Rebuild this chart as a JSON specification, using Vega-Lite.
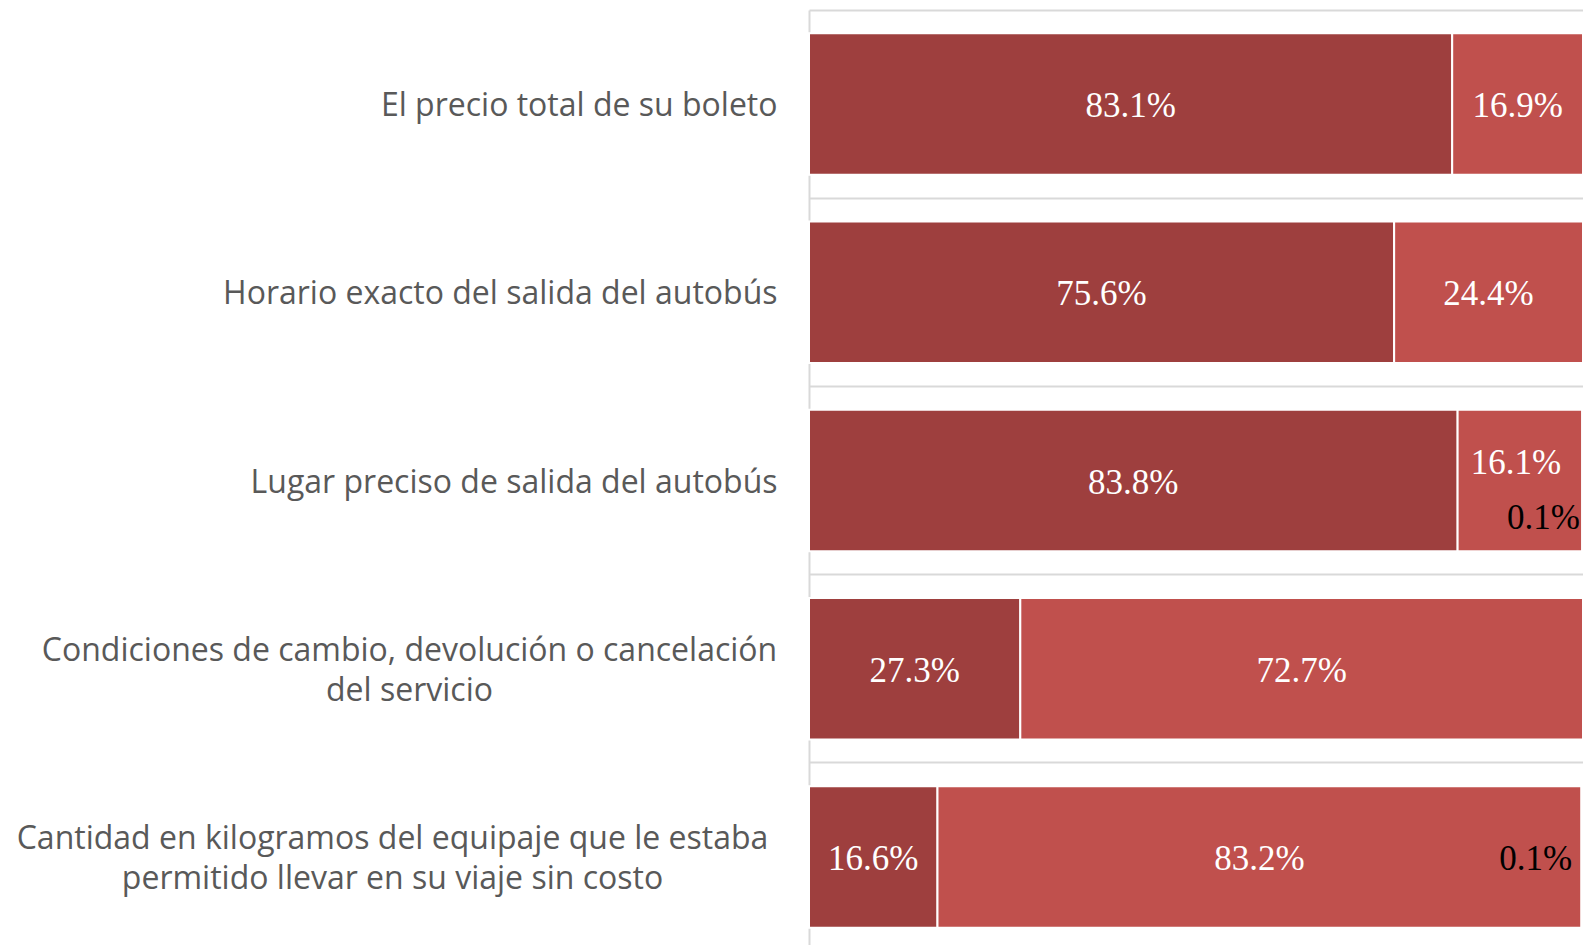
{
  "$schema": "https://vega.github.io/schema/vega-lite/v6.json",
  "width": 774,
  "height": 941,
  "autosize": {"type": "none"},
  "padding": {"left": 809, "top": 10, "right": 0, "bottom": 0},
  "background": "white",
  "config": {"view": {"stroke": null}},
  "data": {
    "values": [
      {"q": "El precio total de su boleto", "r": "Sí", "v": 0.831},
      {"q": "El precio total de su boleto", "r": "No", "v": 0.169},
      {"q": "Horario exacto del salida del autobús", "r": "Sí", "v": 0.756},
      {"q": "Horario exacto del salida del autobús", "r": "No", "v": 0.244},
      {"q": "Lugar preciso de salida del autobús", "r": "Sí", "v": 0.838},
      {"q": "Lugar preciso de salida del autobús", "r": "No", "v": 0.161},
      {"q": "Lugar preciso de salida del autobús", "r": "No sabe", "v": 0.001},
      {"q": "Condiciones de cambio, devolución o cancelación del servicio", "r": "Sí", "v": 0.273},
      {"q": "Condiciones de cambio, devolución o cancelación del servicio", "r": "No", "v": 0.727},
      {"q": "Cantidad en kilogramos del equipaje que le estaba permitido llevar en su viaje sin costo", "r": "Sí", "v": 0.166},
      {"q": "Cantidad en kilogramos del equipaje que le estaba permitido llevar en su viaje sin costo", "r": "No", "v": 0.832},
      {"q": "Cantidad en kilogramos del equipaje que le estaba permitido llevar en su viaje sin costo", "r": "No sabe", "v": 0.001}
    ]
  },
  "transform": [
    {"calculate": "indexof(['Sí','No','No sabe'], datum.r)", "as": "ord"},
    {"stack": "v", "groupby": ["q"], "sort": [{"field": "ord", "order": "ascending"}], "as": ["v0", "v1"]},
    {"calculate": "(datum.v0 + datum.v1) / 2", "as": "vm"}
  ],
  "encoding": {
    "y": {
      "field": "q",
      "type": "nominal",
      "sort": null,
      "scale": {"paddingInner": 0, "paddingOuter": 0},
      "axis": {
        "title": null,
        "ticks": false,
        "tickSize": 0,
        "domain": true,
        "domainColor": "#d9d9d9",
        "domainWidth": 2,
        "grid": true,
        "gridColor": "#d9d9d9",
        "gridWidth": 2,
        "bandPosition": 0,
        "labelFont": "Open Sans",
        "labelFontSize": 32,
        "labelColor": "#595959",
        "labelLimit": 900,
        "labelOverlap": false,
        "labelBound": false,
        "labelLineHeight": 40,
        "labelAlign": {
          "condition": {"test": "datum.value == 'Condiciones de cambio, devolución o cancelación del servicio' || datum.value == 'Cantidad en kilogramos del equipaje que le estaba permitido llevar en su viaje sin costo'", "value": "center"},
          "value": "right"
        },
        "labelOffset": {
          "condition": {"test": "datum.value == 'Condiciones de cambio, devolución o cancelación del servicio' || datum.value == 'Cantidad en kilogramos del equipaje que le estaba permitido llevar en su viaje sin costo'", "value": -18},
          "value": 2
        },
        "labelPadding": {
          "condition": [
            {"test": "datum.value == 'Condiciones de cambio, devolución o cancelación del servicio'", "value": 400},
            {"test": "datum.value == 'Cantidad en kilogramos del equipaje que le estaba permitido llevar en su viaje sin costo'", "value": 417}
          ],
          "value": 32
        },
        "labelExpr": "datum.value == 'Condiciones de cambio, devolución o cancelación del servicio' ? ['Condiciones de cambio, devolución o cancelación', 'del servicio'] : datum.value == 'Cantidad en kilogramos del equipaje que le estaba permitido llevar en su viaje sin costo' ? ['Cantidad en kilogramos del equipaje que le estaba', 'permitido llevar en su viaje sin costo'] : datum.value"
      }
    }
  },
  "layer": [
    {
      "mark": {"type": "bar", "height": {"band": 0.752}, "stroke": "white", "strokeWidth": 2},
      "encoding": {
        "x": {"field": "v0", "type": "quantitative", "scale": {"domain": [0, 1], "nice": false}, "axis": null},
        "x2": {"field": "v1"},
        "color": {
          "field": "r",
          "type": "nominal",
          "scale": {"domain": ["Sí", "No", "No sabe"], "range": ["#9E3F3E", "#C0504D", "#D99694"]},
          "legend": null
        }
      }
    },
    {
      "transform": [{"filter": "datum.r != 'No sabe' && !(datum.q == 'Lugar preciso de salida del autobús' && datum.r == 'No')"}],
      "mark": {"type": "text", "font": "Liberation Serif", "fontSize": 35, "color": "white", "baseline": "middle", "align": "center", "dy": 2},
      "encoding": {
        "x": {"field": "vm", "type": "quantitative"},
        "text": {"field": "v", "type": "quantitative", "format": ".1%"}
      }
    },
    {
      "transform": [{"filter": "datum.q == 'Lugar preciso de salida del autobús' && datum.r == 'No'"}],
      "mark": {"type": "text", "font": "Liberation Serif", "fontSize": 35, "color": "white", "baseline": "middle", "align": "center", "dy": -18, "dx": -4},
      "encoding": {
        "x": {"field": "vm", "type": "quantitative"},
        "text": {"field": "v", "type": "quantitative", "format": ".1%"}
      }
    },
    {
      "transform": [{"filter": "datum.r == 'No sabe' && datum.q == 'Lugar preciso de salida del autobús'"}],
      "mark": {"type": "text", "font": "Liberation Serif", "fontSize": 35, "color": "black", "baseline": "middle", "align": "right", "dx": -3, "dy": 37},
      "encoding": {
        "x": {"field": "v1", "type": "quantitative"},
        "text": {"field": "v", "type": "quantitative", "format": ".1%"}
      }
    },
    {
      "transform": [{"filter": "datum.r == 'No sabe' && datum.q != 'Lugar preciso de salida del autobús'"}],
      "mark": {"type": "text", "font": "Liberation Serif", "fontSize": 35, "color": "black", "baseline": "middle", "align": "right", "dx": -10, "dy": 2},
      "encoding": {
        "x": {"field": "v1", "type": "quantitative"},
        "text": {"field": "v", "type": "quantitative", "format": ".1%"}
      }
    }
  ]
}
